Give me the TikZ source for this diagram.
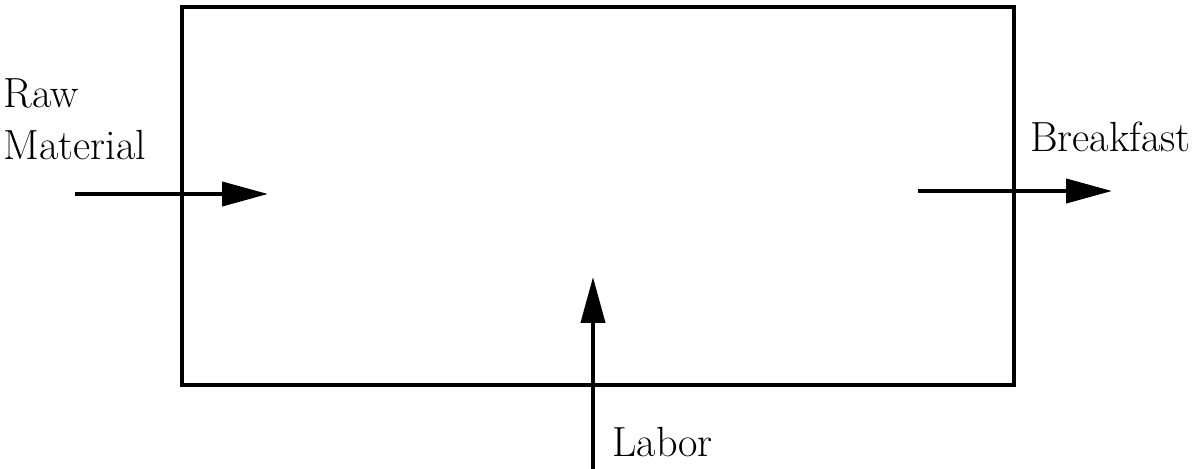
\documentclass[tikz,border=0pt]{standalone}
\usetikzlibrary{arrows.meta}

\tikzset{
    flow/.style = {line width=2.3pt, -{Triangle[length=0.92cm, width=0.48cm]}},
    lbl/.style = {inner sep=0pt, font=\fontsize{24}{30}\selectfont}
}

\begin{document}
\begin{tikzpicture}[x = 0.02cm, y = -0.02cm]
    \useasboundingbox (0,0) rectangle (1200,469);
    \node[draw, line width=2.3pt, minimum width=832*0.02cm, minimum height=378*0.02cm, inner sep=0pt, anchor=north west] (plant) at (180,5) {};
    \coordinate (rawbeg) at (75,194);
    \coordinate (rawend) at (268,194);
    \coordinate (outbeg) at (918,191);
    \coordinate (outend) at (1112,191);
    \coordinate (labbeg) at (593,469);
    \coordinate (labend) at (593,277);
    \draw[flow] (rawbeg) -- (rawend);
    \draw[flow] (outbeg) -- (outend);
    \draw[flow] (labbeg) -- (labend);
    \node[lbl, anchor=base west, align=left] (raw) at (3,160) {Raw\\Material};
    \node[lbl, anchor=base west] (out) at (1030,152) {Breakfast};
    \node[lbl, anchor=base west] (lab) at (612,457) {Labor};
\end{tikzpicture}
\end{document}
